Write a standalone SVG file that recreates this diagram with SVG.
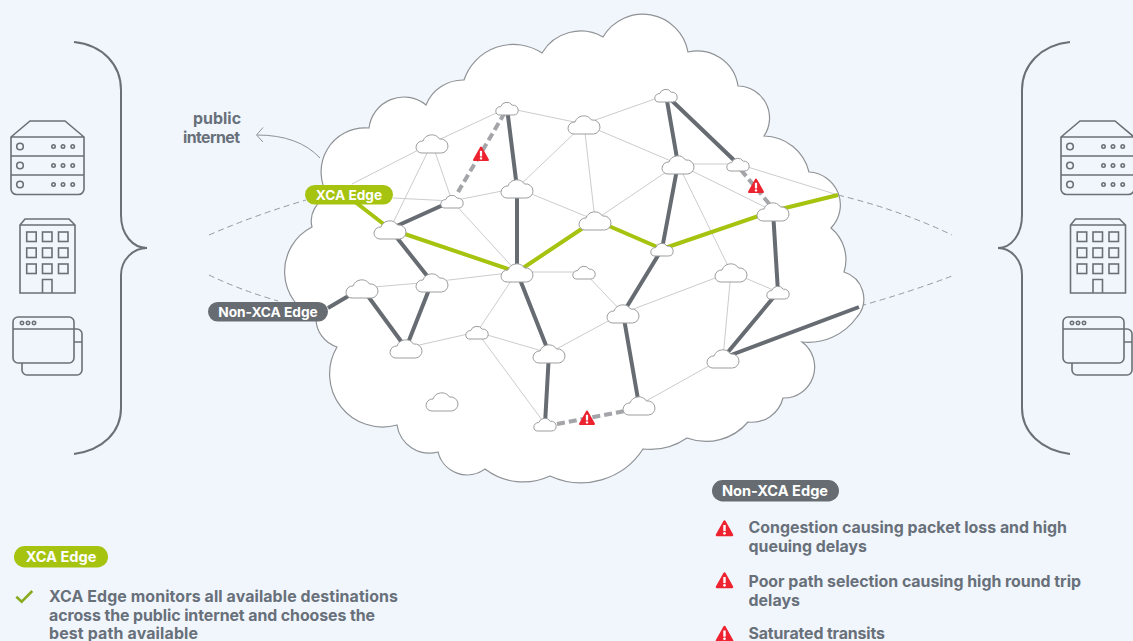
<svg xmlns="http://www.w3.org/2000/svg" width="1133" height="641" viewBox="0 0 1133 641">
<style>
text{font-family:"Inter","Liberation Sans",sans-serif;font-weight:700}
.body{font-size:15.9px;fill:#68707a}
.pill{font-size:13.7px;fill:#fff;text-anchor:middle}
.leg{font-size:14.6px}
.thin{stroke:#cbcccd;stroke-width:1;fill:none}
.dark{stroke:#666c72;stroke-width:4;fill:none}
.green{stroke:#a5c30f;stroke-width:4;fill:none}
.dash{stroke:#a3a5a9;stroke-width:4;stroke-dasharray:8 4;fill:none}
.out{stroke:#8a8f94;stroke-width:.9;stroke-dasharray:6 4;fill:none}
.ic{stroke:#6b7076;stroke-width:1.6;fill:none}
.cl{fill:#fff;stroke:#9c9d9e;stroke-width:1;vector-effect:non-scaling-stroke}
</style>
<defs>
<path id="c" class="cl" d="M-10 10A5.8 5.8 0 0 1-16 4.5A6.5 6.5 0 0 1-9-2A9.3 9.3 0 0 1 7.5-4A7.3 7.3 0 0 1 16 3A7 7 0 0 1 9.5 10Z"/>
<g id="w"><path d="M0-6.5L7 6H-7Z" fill="#ed2330" stroke="#ed2330" stroke-width="2" stroke-linejoin="round"/><rect x="-1.100" y="-3.200" width="2.200" height="5.600" fill="#fff"/><circle cx="0" cy="4.400" r="1.200" fill="#fff"/></g>
<g id="srv" class="ic"><path d="M11 137L30 121H65L84 137V189A5.500 5.500 0 0 1 78.500 194.500H16.500A5.500 5.500 0 0 1 11 189ZM11 137H84M11 156H84M11 175H84"/><circle cx="20" cy="146.500" r="3.300"/><circle cx="20" cy="165.500" r="3.300"/><circle cx="20" cy="184.500" r="3.300"/><circle cx="53.500" cy="146.500" r="1.700"/><circle cx="63" cy="146.500" r="1.700"/><circle cx="72.700" cy="146.500" r="1.700"/><circle cx="53.500" cy="165.500" r="1.700"/><circle cx="63" cy="165.500" r="1.700"/><circle cx="72.700" cy="165.500" r="1.700"/><circle cx="53.500" cy="184.500" r="1.700"/><circle cx="63" cy="184.500" r="1.700"/><circle cx="72.700" cy="184.500" r="1.700"/></g>
<g id="bld" class="ic"><path d="M20 225L25 219H69L75 225V293H20ZM20 225H75"/><rect x="26.700" y="232" width="9.500" height="9.500"/><rect x="42.500" y="232" width="9.500" height="9.500"/><rect x="58.500" y="232" width="9.500" height="9.500"/><rect x="26.700" y="248" width="9.500" height="9.500"/><rect x="42.500" y="248" width="9.500" height="9.500"/><rect x="58.500" y="248" width="9.500" height="9.500"/><rect x="26.700" y="264" width="9.500" height="9.500"/><rect x="42.500" y="264" width="9.500" height="9.500"/><rect x="58.500" y="264" width="9.500" height="9.500"/><path d="M42.500 293V279.500H52V293"/></g>
<g id="win" class="ic"><rect x="13" y="317" width="61" height="46" rx="5"/><path d="M13 329H74M74 329H77A5 5 0 0 1 82 334V370A5 5 0 0 1 77 375H27A5 5 0 0 1 22 370V363M74 342H82"/><circle cx="22" cy="323" r="1.700"/><circle cx="28" cy="323" r="1.700"/><circle cx="34" cy="323" r="1.700"/></g>
</defs>
<rect id="bg" width="1133" height="641" fill="#f1f6fd"/>

<g id="left-icons"><use href="#srv"/><use href="#bld"/><use href="#win"/><path class="ic" style="stroke-width:2" d="M74 42C103 45 121 65 121 90V215C121 235 133 248 147 248C133 248 121 260 121 275V408C121 432 103 450 74 454"/></g>
<g id="right-icons"><use href="#srv" x="1050"/><use href="#bld" x="1050.500"/><use href="#win" x="1050"/><path class="ic" style="stroke-width:2" d="M1070 42C1041 45 1022 65 1022 90V215C1022 235 1011 248 998 248C1011 248 1022 260 1022 275V408C1022 432 1041 450 1070 454"/></g>

<g id="public-internet"><path d="M320 158C306 143 285 135 257 135M263 127.500L256.500 135L263 142" fill="none" stroke="#8f9295" stroke-width="1"/>
<text class="body" x="193" y="123.500" textLength="48">public</text><text class="body" x="183" y="143" textLength="57">internet</text></g>

<g id="outside-dashes"><path class="out" d="M209 235Q255 215 306 200"/><path class="out" d="M209 275Q240 290 278 301"/><path class="out" d="M838 195Q900 210 952 235"/><path class="out" d="M860 306Q910 292 952 276"/></g>

<path id="big-cloud" d="M329 197A44 44 0 0 1 369 128A35 35 0 0 1 426 105A40 40 0 0 1 464 80A52 52 0 0 1 542 53A45 45 0 0 1 603 37A46 46 0 0 1 688 52A41 41 0 0 1 738 86A32 32 0 0 1 764 136A47 47 0 0 1 809 172A33 33 0 0 1 831 228A41 41 0 0 1 844 272A28 28 0 0 1 857 317A60 60 0 0 1 802 342A31 31 0 0 1 783 398A32 32 0 0 1 748 422A55 55 0 0 1 687 438A65 65 0 0 1 643 449A74 74 0 0 1 550 476A63 63 0 0 1 485 469A30 30 0 0 1 438 452A33 33 0 0 1 397 425A53 53 0 0 1 337 347A30 30 0 0 1 316 318A50 50 0 0 1 312 227A25 25 0 0 1 329 197Z" fill="#fff" stroke="#8f9295" stroke-width="1.200"/>

<g id="connectors">
<g class="thin">
<path d="M432 143L507 108M432 143L452 201M432 143L390 229M432 143L352 184M393 198L452 201M452 201L517 188M507 108L584 124M452 201L517 272M517 188L584 124M517 188L595 220M584 124L666 95M584 124L678 164M584 124L595 220M678 164L595 220M678 164L738 164M738 164L838 195M678 164L773 211M678 164L731 272M517 272L584 272M517 272L432 282M432 282L362 288M517 272L477 332M477 332L406 348M477 332L549 353M477 332L545 424M549 353L623 313M623 313L584 272M623 313L731 272M731 272L778 292M731 272L723 358M723 358L639 405"/>
</g>
<g class="dark">
<path d="M507 108L517 188M517 188L517 272M452 201L390 229M390 229L432 282M432 282L406 348M362 288L406 348M362 288L328 308M517 272L549 353M549 353L545 424M666 95L678 164M666 95L738 164M678 164L662 249M662 249L623 313M623 313L639 405M773 211L778 292M778 292L723 358M723 358L859 307"/>
</g>
<g class="green"><path d="M350 198L390 229M390 229L517 272M517 272L595 220M595 220L662 249M662 249L773 211M773 211L838 195"/></g>
<g class="dash"><path d="M458 192L504 114M741 170L771 206M557 424L625 411"/></g>
</g>

<g id="n1"><use href="#c" x="432" y="143"/></g>
<g id="n2"><use href="#c" transform="translate(507 108) scale(.7)"/></g>
<g id="n3"><use href="#c" transform="translate(452 201) scale(.7)"/></g>
<g id="n4"><use href="#c" x="390" y="229"/></g>
<g id="n5"><use href="#c" x="517" y="188"/></g>
<g id="n6"><use href="#c" x="584" y="124"/></g>
<g id="n7"><use href="#c" transform="translate(666 95) scale(.7)"/></g>
<g id="n8"><use href="#c" x="678" y="164"/></g>
<g id="n9"><use href="#c" transform="translate(738 164) scale(.7)"/></g>
<g id="n10"><use href="#c" x="773" y="211"/></g>
<g id="n11"><use href="#c" x="595" y="220"/></g>
<g id="n12"><use href="#c" transform="translate(662 249) scale(.7)"/></g>
<g id="n13"><use href="#c" x="517" y="272"/></g>
<g id="n14"><use href="#c" x="432" y="282"/></g>
<g id="n15"><use href="#c" x="362" y="288"/></g>
<g id="n16"><use href="#c" x="406" y="348"/></g>
<g id="n17"><use href="#c" transform="translate(477 332) scale(.7)"/></g>
<g id="n18"><use href="#c" x="549" y="353"/></g>
<g id="n19"><use href="#c" x="442" y="401"/></g>
<g id="n20"><use href="#c" transform="translate(545 424) scale(.7)"/></g>
<g id="n21"><use href="#c" transform="translate(584 272) scale(.7)"/></g>
<g id="n22"><use href="#c" x="623" y="313"/></g>
<g id="n23"><use href="#c" x="731" y="272"/></g>
<g id="n24"><use href="#c" transform="translate(778 292) scale(.7)"/></g>
<g id="n25"><use href="#c" x="723" y="358"/></g>
<g id="n26"><use href="#c" x="639" y="405"/></g>

<g id="warnings"><use href="#w" x="481" y="154"/><use href="#w" x="756" y="186"/><use href="#w" x="587" y="418"/></g>

<g id="label-xca"><rect x="305" y="185" width="88" height="19.500" rx="9.700" fill="#a5c30f"/><text class="pill" x="349" y="199.800">XCA Edge</text></g>
<g id="label-nonxca"><rect x="208" y="302" width="120" height="19.500" rx="9.700" fill="#666c72"/><text class="pill" x="268" y="316.800">Non-XCA Edge</text></g>

<g id="legend-xca"><rect x="14" y="546" width="94" height="21.500" rx="10.700" fill="#a5c30f"/><text class="pill leg" x="61" y="562">XCA Edge</text>
<path d="M16.300 596.700L21.700 601.700L32.300 591" fill="none" stroke="#8bab1e" stroke-width="2.600"/>
<text class="body" x="49" y="601.700" textLength="349">XCA Edge monitors all available destinations</text><text class="body" x="49" y="620.700" textLength="326">across the public internet and chooses the</text><text class="body" x="49" y="639.300" textLength="149">best path available</text></g>

<g id="legend-nonxca"><rect x="712" y="480" width="127" height="21.500" rx="10.700" fill="#666c72"/><text class="pill leg" x="775" y="495.500">Non-XCA Edge</text>
<use href="#w" transform="translate(724.500 528.500) scale(1.100)"/><use href="#w" transform="translate(724.500 580.500) scale(1.100)"/><use href="#w" transform="translate(724.500 634) scale(1.100)"/>
<text class="body" x="748.500" y="532.700" textLength="318.500">Congestion causing packet loss and high</text><text class="body" x="748.500" y="551.700" textLength="118.500">queuing delays</text><text class="body" x="748.500" y="586.700" textLength="332.500">Poor path selection causing high round trip</text><text class="body" x="748.500" y="605.700" textLength="51.500">delays</text><text class="body" x="748.500" y="639.300" textLength="136.500">Saturated transits</text></g>
</svg>
